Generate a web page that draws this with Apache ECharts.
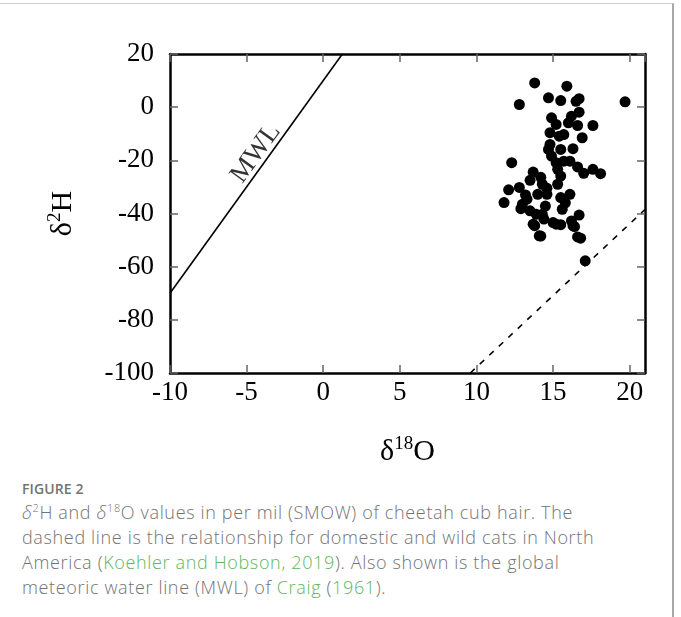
<!DOCTYPE html>
<html>
<head>
<meta charset="utf-8">
<script src="https://cdn.jsdelivr.net/npm/echarts@6/dist/echarts.min.js"></script>
<style>
  body { margin: 0; background: #fff; }
  #frame { position: absolute; left: -2px; top: 3px; width: 674px; height: 640px;
           border-top: 1px solid #d0d0d0; border-right: 2px solid #a8a8a8; }
  #main { position: absolute; left: 0; top: 0; width: 681px; height: 475px; }
  #caption { position: absolute; left: 22px; top: 478px; width: 650px;
             font-family: "Open Sans", Lato, sans-serif; color: #737373; }
  #caption .fig { font-size: 14px; font-weight: 600; letter-spacing: 0.1px; color: #737373; line-height: 22px; }
  #caption .txt { font-size: 18px; line-height: 25px; font-weight: 300; letter-spacing: 0.65px; }
  #caption a { color: #5cb85c; text-decoration: none; }
  sup { font-size: 11px; line-height: 0; }
</style>
</head>
<body>
<div id="frame"></div>
<div id="main"></div>
<div id="caption">
  <div class="fig">FIGURE 2</div>
  <div class="txt"><i>δ</i><sup>2</sup>H and <i>δ</i><sup>18</sup>O values in per mil (SMOW) of cheetah cub hair. The<br>dashed line is the relationship for domestic and wild cats in North<br>America (<a>Koehler and Hobson, 2019</a>). Also shown is the global<br>meteoric water line (MWL) of <a>Craig</a> (<a>1961</a>).</div>
</div>
<script>
// hair values (per mil)
var hairO18 = [13.8, 15.9, 12.8, 14.7, 15.5, 16.5, 16.7, 19.7,
  16.7, 16.2, 16.0, 16.6, 17.6, 14.9, 15.2, 14.8, 15.7, 15.4, 16.9, 14.8,
  15.5, 14.7, 16.3, 14.9, 15.2, 15.7, 16.1, 12.3, 15.3, 16.6, 17.6, 18.1,
  17.0, 13.7, 15.5, 14.2, 15.3, 14.3, 12.1, 12.8, 14.0, 14.6, 15.5, 16.1,
  11.8, 13.0, 13.3, 13.5, 13.7, 14.1, 14.3, 14.5, 14.4, 15.6, 15.0, 15.2,
  16.2, 16.3, 16.7, 16.6, 17.1, 12.9, 13.9, 15.5, 13.8, 16.4, 14.2, 16.8,
  13.5, 14.6, 15.8, 13.2];
var hairH2 = [9.1, 7.9, 1.0, 3.5, 2.5, 2.2, 3.2, 2.0,
  -1.9, -3.4, -5.9, -6.9, -6.9, -4.0, -6.5, -9.6, -10.3, -10.9, -11.5, -14.0,
  -15.9, -15.9, -15.6, -18.4, -20.9, -20.3, -20.3, -20.9, -23.4, -22.5, -23.4, -25.0,
  -24.9, -24.4, -25.9, -26.4, -29.0, -29.0, -31.1, -30.2, -32.8, -32.8, -34.0, -32.8,
  -35.9, -36.5, -34.6, -39.0, -44.0, -48.4, -40.3, -37.2, -42.1, -38.4, -43.4, -44.0,
  -42.8, -44.6, -40.6, -48.8, -57.8, -38.2, -40.3, -44.2, -44.6, -44.9, -48.5, -49.3,
  -27.5, -30.5, -36.0, -33.0];

// meteoric water line (Craig 1961) and cat line (Koehler & Hobson 2019)
var mwlO18 = [-10, 1.25];
var mwlH2 = [-70, 20];
var catO18 = [9.6, 21];
var catH2 = [-100, -38.5];
var mwlLabel = [-4.4, -17.4];

var xTicks = { min: -10, max: 21, interval: 5 };
var yTicks = { min: -100, max: 20, interval: 20 };

function pairs(xs, ys) {
  return xs.map(function (x, i) { return [x, ys[i]]; });
}

var serif = '"Liberation Serif", "DejaVu Serif", serif';
var chart = echarts.init(document.getElementById('main'));

var tickStyle = { show: true, inside: true, length: 8, lineStyle: { color: '#666', width: 1.5 } };
var lineStyle = { onZero: false, lineStyle: { color: '#000', width: 2.5 } };
var nameRich = {
  d: { fontFamily: serif, fontSize: 30, color: '#000', lineHeight: 34 },
  s: { fontFamily: serif, fontSize: 19, color: '#000', verticalAlign: 'top', lineHeight: 19 }
};

var option = {
  animation: false,
  grid: { left: 170, top: 54, width: 475, height: 319 },
  xAxis: [
    {
      type: 'value', min: xTicks.min, max: xTicks.max, interval: xTicks.interval,
      axisLine: lineStyle, axisTick: tickStyle, splitLine: { show: false },
      axisLabel: { color: '#000', fontFamily: serif, fontSize: 27, margin: 6, showMaxLabel: false },
      name: '{d|δ}{s|18}{d|O}', nameLocation: 'middle', nameGap: 62,
      nameTextStyle: { rich: nameRich }
    },
    {
      type: 'value', position: 'top', min: xTicks.min, max: xTicks.max, interval: xTicks.interval,
      axisLine: lineStyle, axisTick: tickStyle, axisLabel: { show: false }, splitLine: { show: false }
    }
  ],
  yAxis: [
    {
      type: 'value', min: yTicks.min, max: yTicks.max, interval: yTicks.interval,
      axisLine: lineStyle, axisTick: tickStyle, splitLine: { show: false },
      axisLabel: { color: '#000', fontFamily: serif, fontSize: 27, margin: 16 },
      name: '{d|δ}{s|2}{d|H}', nameLocation: 'middle', nameGap: 90, nameRotate: 90,
      nameTextStyle: { rich: nameRich }
    },
    {
      type: 'value', position: 'right', min: yTicks.min, max: yTicks.max, interval: yTicks.interval,
      axisLine: lineStyle, axisTick: tickStyle, axisLabel: { show: false }, splitLine: { show: false }
    }
  ],
  series: [
    {
      type: 'line', data: pairs(mwlO18, mwlH2), symbol: 'none',
      lineStyle: { color: '#000', width: 1.6 }
    },
    {
      type: 'line', data: pairs(catO18, catH2), symbol: 'none',
      lineStyle: { color: '#000', width: 1.6, type: [6, 7] }
    },
    {
      type: 'scatter', data: [mwlLabel], symbolSize: 0,
      label: {
        show: true, position: 'inside', formatter: 'MWL', rotate: 54,
        fontFamily: serif, fontSize: 27, color: '#000'
      }
    },
    {
      type: 'scatter', data: pairs(hairO18, hairH2), symbol: 'circle', symbolSize: 11,
      itemStyle: { color: '#000', opacity: 1 }
    }
  ]
};

chart.setOption(option);
</script>
</body>
</html>
